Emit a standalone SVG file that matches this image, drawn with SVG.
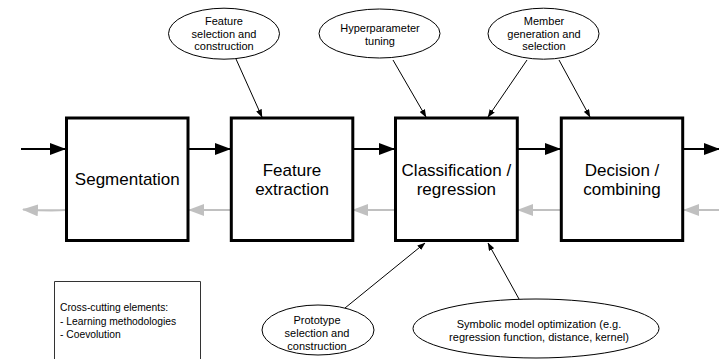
<svg xmlns="http://www.w3.org/2000/svg" width="719" height="359" viewBox="0 0 719 359">
<style>
.box{fill:#fff;stroke:#000;stroke-width:3}
.ell{fill:#fff;stroke:#000;stroke-width:1}
.big{font-family:"Liberation Sans",Arial,sans-serif;font-size:17px;fill:#000;text-anchor:middle}
.sm{font-family:"Liberation Sans",Arial,sans-serif;font-size:11px;fill:#000;text-anchor:middle}
.lt{font-family:"Liberation Sans",Arial,sans-serif;font-size:10.3px;fill:#000}
.fw{fill:none;stroke:#000;stroke-width:2.2}
.bw{fill:none;stroke:#c0c0c0;stroke-width:2.2}
.thin{fill:none;stroke:#000;stroke-width:1}
</style>
<defs>
<marker id="ab" markerUnits="userSpaceOnUse" markerWidth="16" markerHeight="12" refX="15" refY="6" orient="auto"><path d="M0,0 L16,6 L0,12 z" fill="#000"/></marker>
<marker id="ag" markerUnits="userSpaceOnUse" markerWidth="16" markerHeight="12" refX="15" refY="6" orient="auto"><path d="M0,0 L16,6 L0,12 z" fill="#c0c0c0"/></marker>
<marker id="as" markerUnits="userSpaceOnUse" markerWidth="8" markerHeight="6" refX="7.5" refY="3" orient="auto"><path d="M0,0 L8,3 L0,6 z" fill="#000"/></marker>
</defs>
<g id="connectors">
<path class="fw" d="M21,149 L65,149" marker-end="url(#ab)"/>
<path class="fw" d="M189,149 L230,149" marker-end="url(#ab)"/>
<path class="fw" d="M353,149 L394,149" marker-end="url(#ab)"/>
<path class="fw" d="M518,149 L560,149" marker-end="url(#ab)"/>
<path class="fw" d="M684,149 L719,149" marker-end="url(#ab)"/>
<path class="bw" d="M66,210 Q50,211 23,209.5" marker-end="url(#ag)"/>
<path class="bw" d="M230,210 L189,210" marker-end="url(#ag)"/>
<path class="bw" d="M394,210 L353,210" marker-end="url(#ag)"/>
<path class="bw" d="M560,210 L518,210" marker-end="url(#ag)"/>
<path class="bw" d="M719,210 L684,210" marker-end="url(#ag)"/>
<path class="thin" d="M236,59 L262,117" marker-end="url(#as)"/>
<path class="thin" d="M393,60 L426,117" marker-end="url(#as)"/>
<path class="thin" d="M527,60 L488,117" marker-end="url(#as)"/>
<path class="thin" d="M559,60 L590,117" marker-end="url(#as)"/>
<path class="thin" d="M345,308 L425,243" marker-end="url(#as)"/>
<path class="thin" d="M519,299 L488,243" marker-end="url(#as)"/>
</g>
<g id="segmentation">
<rect class="box" x="66.5" y="118" width="121.5" height="122.5"/>
<text class="big" x="127.3" y="185">Segmentation</text>
</g>
<g id="feature-extraction">
<rect class="box" x="231.3" y="118" width="121.5" height="122.5"/>
<text class="big" x="292" y="176">Feature</text>
<text class="big" x="292" y="195">extraction</text>
</g>
<g id="classification">
<rect class="box" x="395.5" y="118" width="121.8" height="122.5"/>
<text class="big" x="456.4" y="176">Classification /</text>
<text class="big" x="456.4" y="195">regression</text>
</g>
<g id="decision">
<rect class="box" x="561.3" y="118" width="121.4" height="122.5"/>
<text class="big" x="622" y="176">Decision /</text>
<text class="big" x="622" y="195">combining</text>
</g>
<g id="feature-selection">
<ellipse class="ell" cx="224" cy="33.7" rx="55.5" ry="25.5"/>
<text class="sm" x="224" y="25">Feature</text>
<text class="sm" x="224" y="37.7">selection and</text>
<text class="sm" x="224" y="50.4">construction</text>
</g>
<g id="hyperparameter">
<ellipse class="ell" cx="379.5" cy="33.5" rx="60.5" ry="24.5"/>
<text class="sm" x="380" y="32">Hyperparameter</text>
<text class="sm" x="380" y="44.5">tuning</text>
</g>
<g id="member">
<ellipse class="ell" cx="543.5" cy="33.7" rx="55.5" ry="25.5"/>
<text class="sm" x="544" y="25">Member</text>
<text class="sm" x="544" y="37.7">generation and</text>
<text class="sm" x="544" y="50.4">selection</text>
</g>
<g id="prototype">
<ellipse class="ell" cx="318" cy="330" rx="56" ry="25"/>
<text class="sm" x="317" y="323.5">Prototype</text>
<text class="sm" x="317" y="336.5">selection and</text>
<text class="sm" x="317" y="350">construction</text>
</g>
<g id="symbolic">
<ellipse class="ell" cx="536" cy="328.5" rx="123" ry="29.5"/>
<text class="sm" x="539" y="327.5">Symbolic model optimization (e.g.</text>
<text class="sm" x="539" y="340.5">regression function, distance, kernel)</text>
</g>
<g id="cross-cutting">
<path d="M54.5,360 L54.5,281.5 L200.5,281.5 L200.5,360" fill="#fff" stroke="#333" stroke-width="1"/>
<text class="lt" x="60" y="311">Cross-cutting elements:</text>
<text class="lt" x="60" y="324.5">- Learning methodologies</text>
<text class="lt" x="60" y="337.5">- Coevolution</text>
</g>
</svg>
